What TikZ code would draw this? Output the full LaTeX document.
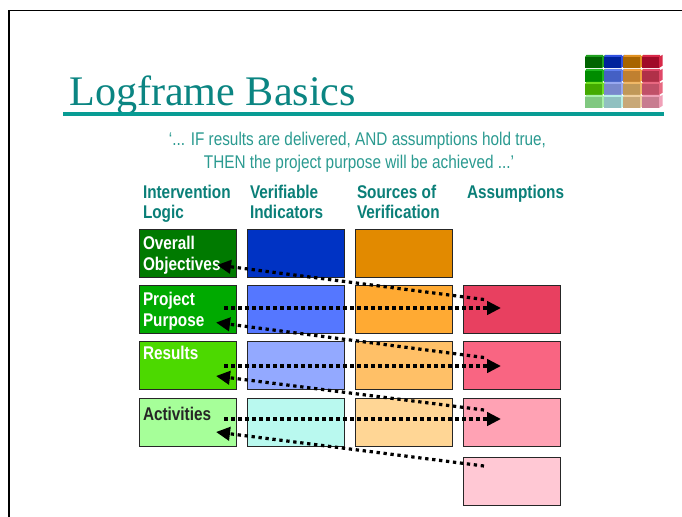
\documentclass[tikz,border=0pt]{standalone}
\usepackage{graphicx}
\usepackage{fontspec}
\setmainfont{Liberation Sans}
\newfontfamily\titlefont{Liberation Serif}
\usetikzlibrary{arrows.meta}
\newcommand{\nar}[1]{\scalebox{0.833}[1]{#1}}
\definecolor{teal1}{HTML}{0B8582}
\definecolor{rulec}{HTML}{089C94}
\definecolor{headc}{HTML}{0A7F78}
\definecolor{subc}{HTML}{2A9A90}
\definecolor{ca1}{HTML}{007A00}
\definecolor{cb1}{HTML}{0033C4}
\definecolor{cc1}{HTML}{E28A00}
\definecolor{ca2}{HTML}{00AA00}
\definecolor{cb2}{HTML}{5577FF}
\definecolor{cc2}{HTML}{FFAA33}
\definecolor{cd2}{HTML}{E84060}
\definecolor{ca3}{HTML}{4CD900}
\definecolor{cb3}{HTML}{93A9FF}
\definecolor{cc3}{HTML}{FFC067}
\definecolor{cd3}{HTML}{F96582}
\definecolor{ca4}{HTML}{A6FF99}
\definecolor{cb4}{HTML}{B9F9EF}
\definecolor{cc4}{HTML}{FFD695}
\definecolor{cd4}{HTML}{FFA2B4}
\definecolor{cd5}{HTML}{FFC8D4}
\tikzset{
  px/.style={x=0.75pt,y=-0.75pt},
  cell/.style={draw=black!85,line width=0.75pt,minimum width=73pt,minimum height=36.2pt,inner sep=0pt,outer sep=0pt,anchor=north west},
  head/.style={anchor=base west,inner sep=0pt,outer sep=0pt,text=headc,font=\bfseries\fontsize{13.8}{15}\selectfont},
  lab/.style={anchor=base west,inner sep=0pt,outer sep=0pt,text=white,font=\bfseries\fontsize{13.8}{15}\selectfont},
  sub/.style={anchor=base,inner sep=0pt,outer sep=0pt,text=subc,font=\fontsize{13.8}{15}\selectfont},
  dotsb/.style={line width=2.4pt,dash pattern=on 2.5pt off 2.75pt},
  dotsa/.style={line width=2.7pt,dash pattern=on 2.7pt off 2.55pt},
  tip/.style={-{Triangle[length=10.5pt,width=10pt]}},
}
\newcommand{\cubelet}[4]{%
  \fill[#4] (#1,#2) -- ++(1.5,-2.2) -- ++(16.5,0) -- ++(0,2.2) -- cycle;
  \fill[#4] (#1+17,#2) -- ++(3.5,-2.2) -- ++(0,11) -- ++(-3.5,2.2) -- cycle;
  \fill[#3] (#1,#2) rectangle ++(17,11);
}
\definecolor{i11}{HTML}{006400}\definecolor{i12}{HTML}{00229C}\definecolor{i13}{HTML}{A86400}\definecolor{i14}{HTML}{A00A28}
\definecolor{i21}{HTML}{008C00}\definecolor{i22}{HTML}{4460C4}\definecolor{i23}{HTML}{C08030}\definecolor{i24}{HTML}{B03048}
\definecolor{i31}{HTML}{44AA00}\definecolor{i32}{HTML}{7888CC}\definecolor{i33}{HTML}{C09858}\definecolor{i34}{HTML}{C05068}
\definecolor{i41}{HTML}{80C880}\definecolor{i42}{HTML}{90C0C0}\definecolor{i43}{HTML}{C8A878}\definecolor{i44}{HTML}{C87C90}
\definecolor{j11}{HTML}{1FA01F}\definecolor{j12}{HTML}{3050E0}\definecolor{j13}{HTML}{E09020}\definecolor{j14}{HTML}{D82848}
\definecolor{j21}{HTML}{20B820}\definecolor{j22}{HTML}{6080F0}\definecolor{j23}{HTML}{F0A040}\definecolor{j24}{HTML}{E04868}
\definecolor{j31}{HTML}{70E020}\definecolor{j32}{HTML}{98A8F0}\definecolor{j33}{HTML}{F0B868}\definecolor{j34}{HTML}{E86880}
\definecolor{j41}{HTML}{A8F0A8}\definecolor{j42}{HTML}{B8F0E8}\definecolor{j43}{HTML}{F0D0A0}\definecolor{j44}{HTML}{F0A0B8}
\begin{document}
\begin{tikzpicture}[px]
\useasboundingbox (0,0) rectangle (682,517);
\fill[white] (0,0) rectangle (682,517);
\draw[black,line width=0.9pt] (9,517) -- (9,10.5) -- (682,10.5);
\node[anchor=base west,inner sep=0pt,text=teal1,font=\titlefont\fontsize{31.6}{36}\selectfont] (title) at (69,105) {Logframe Basics};
\fill[rulec] (63,111.7) rectangle (664,115.7);
% icon
\cubelet{585}{57}{i11}{j11}
\cubelet{604}{57}{i12}{j12}
\cubelet{623}{57}{i13}{j13}
\cubelet{642}{57}{i14}{j14}
\cubelet{585}{71}{i21}{j21}
\cubelet{604}{71}{i22}{j22}
\cubelet{623}{71}{i23}{j23}
\cubelet{642}{71}{i24}{j24}
\cubelet{585}{84}{i31}{j31}
\cubelet{604}{84}{i32}{j32}
\cubelet{623}{84}{i33}{j33}
\cubelet{642}{84}{i34}{j34}
\cubelet{585}{97}{i41}{j41}
\cubelet{604}{97}{i42}{j42}
\cubelet{623}{97}{i43}{j43}
\cubelet{642}{97}{i44}{j44}
% subtitle
\node[sub] (s1) at (357.5,146) {\nar{‘... IF results are delivered, AND assumptions hold true,}};
\node[sub] (s2) at (359,168.5) {\nar{THEN the project purpose will be achieved ...’}};
% headers
\node[head] (h1a) at (143,198) {\nar{Intervention}};
\node[head] (h1b) at (143,218) {\nar{Logic}};
\node[head] (h2a) at (250,198) {\nar{Verifiable}};
\node[head] (h2b) at (250,218) {\nar{Indicators}};
\node[head] (h3a) at (357,198) {\nar{Sources of}};
\node[head] (h3b) at (357,218) {\nar{Verification}};
\node[head] (h4a) at (467,198) {\nar{Assumptions}};
% cells
\node[cell,fill=ca1] (a1) at (139,229) {};
\node[cell,fill=cb1] (b1) at (247,229) {};
\node[cell,fill=cc1] (c1) at (355,229) {};
\node[cell,fill=ca2] (a2) at (139,285.3) {};
\node[cell,fill=cb2] (b2) at (247,285.3) {};
\node[cell,fill=cc2] (c2) at (355,285.3) {};
\node[cell,fill=cd2] (d2) at (463,285.3) {};
\node[cell,fill=ca3] (a3) at (139,341.7) {};
\node[cell,fill=cb3] (b3) at (247,341.7) {};
\node[cell,fill=cc3] (c3) at (355,341.7) {};
\node[cell,fill=cd3] (d3) at (463,341.7) {};
\node[cell,fill=ca4] (a4) at (139,398) {};
\node[cell,fill=cb4] (b4) at (247,398) {};
\node[cell,fill=cc4] (c4) at (355,398) {};
\node[cell,fill=cd4] (d4) at (463,398) {};
\node[cell,fill=cd5] (d5) at (463,457) {};
% labels
\node[lab] (l1a) at (143,249) {\nar{Overall}};
\node[lab] (l1b) at (143,270.7) {\nar{Objectives}};
\node[lab] (l2a) at (143,305) {\nar{Project}};
\node[lab] (l2b) at (143,326) {\nar{Purpose}};
\node[lab] (l3) at (143,359) {\nar{Results}};
\node[lab,text=black!85] (l4) at (143,420) {\nar{Activities}};
% connectors
\coordinate (r1) at (484,299.5);
\coordinate (r2) at (484,357.5);
\coordinate (r3) at (484,410);
\coordinate (r4) at (484,466);
\coordinate (t1) at (217,265);
\coordinate (t2) at (216,322.5);
\coordinate (t3) at (216,376);
\coordinate (t4) at (216,432);
\coordinate (f1) at (224,308);
\coordinate (f2) at (224,366);
\coordinate (f3) at (224,419);
\coordinate (e1) at (501,308);
\coordinate (e2) at (501,366);
\coordinate (e3) at (501,419);
\draw[dotsb,tip] (r1) -- (t1);
\draw[dotsb,tip] (r2) -- (t2);
\draw[dotsb,tip] (r3) -- (t3);
\draw[dotsb,tip] (r4) -- (t4);
\draw[dotsa,tip] (f1) -- (e1);
\draw[dotsa,tip] (f2) -- (e2);
\draw[dotsa,tip] (f3) -- (e3);
\end{tikzpicture}
\end{document}
